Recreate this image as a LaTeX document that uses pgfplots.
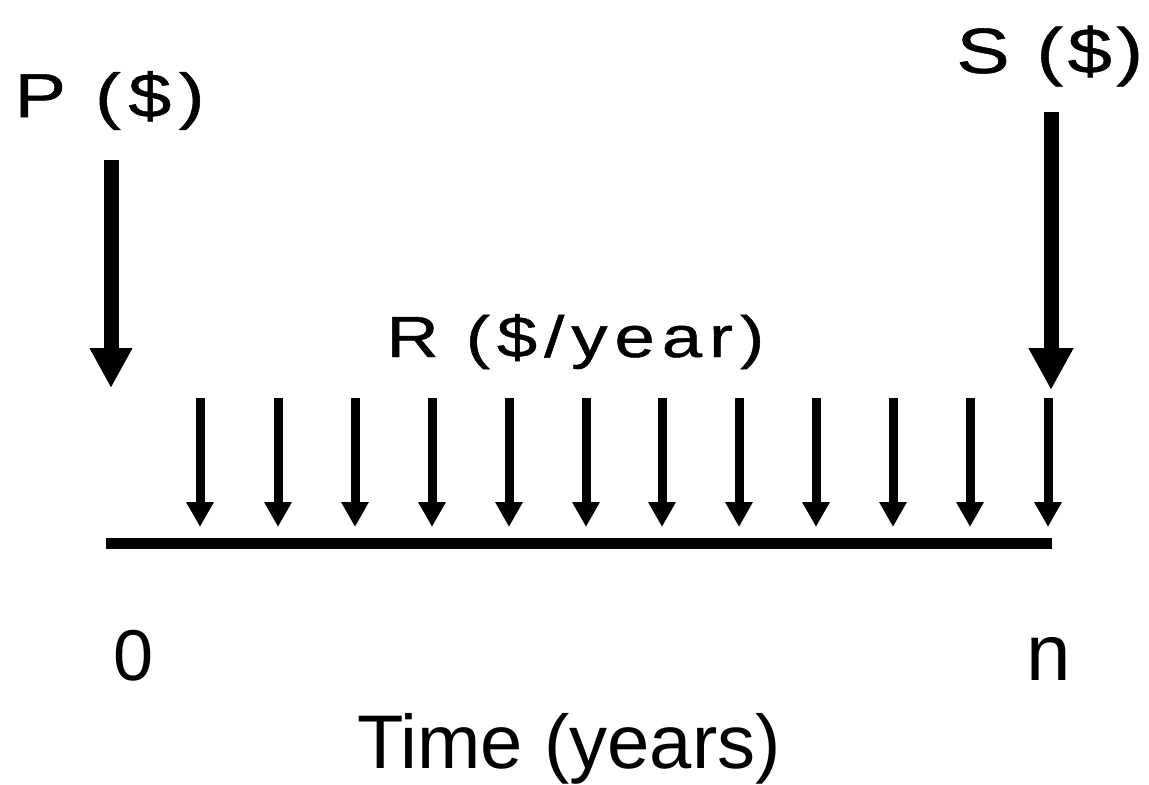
\documentclass[border=0pt]{standalone}
\usepackage{fontspec}
\setmainfont{Liberation Sans}
\newfontfamily\widefont[FakeStretch=1.25,LetterSpace=12,FakeBold=0.8]{Liberation Sans}
\newfontfamily\swidefont[FakeStretch=1.25,LetterSpace=7,FakeBold=0.8]{Liberation Sans}
\usepackage{pgfplots}
\pgfplotsset{compat=1.18}
\usetikzlibrary{arrows.meta}
\begin{document}
\begin{tikzpicture}
\begin{axis}[width=574.5pt,height=392pt,scale only axis,hide axis,
  xmin=0,xmax=1149,ymin=0,ymax=784,clip=false]
% time line
\addplot[black,line width=5.5pt] coordinates {(106,241) (1052,241)};
% P arrow
\addplot[black,line width=7.5pt,-{Triangle[width=20pt,length=20pt]}] coordinates {(111,624) (111,396)};
% S arrow
\addplot[black,line width=7.5pt,-{Triangle[width=21pt,length=21pt]}] coordinates {(1051,672) (1051,394)};
% R arrows
\addplot[black,line width=4.5pt,-{Triangle[width=13pt,length=12.5pt]},quiver={u=0,v=-129}] table {
x y
200 386
278 386
355 386
432 386
509 386
586 386
662 386
739 386
816 386
893 386
970 386
1048 386
};
\node[anchor=base west,inner sep=0pt,font=\widefont\fontsize{31pt}{33pt}\selectfont] at (axis cs:14,667) {P (\$)};
\node[anchor=base west,inner sep=0pt,font=\swidefont\fontsize{32pt}{34pt}\selectfont] at (axis cs:956,711) {S (\$)};
\node[anchor=base west,inner sep=0pt,font=\widefont\fontsize{29pt}{31pt}\selectfont] at (axis cs:386,427) {R (\$/year)};
\node[anchor=base,inner sep=0pt,font=\fontsize{36pt}{38pt}\selectfont] at (axis cs:134,104) {0};
\node[anchor=base,inner sep=0pt,font=\fontsize{40pt}{42pt}\selectfont] at (axis cs:1049,104) {n};
\node[anchor=base,inner sep=0pt,font=\fontsize{38pt}{40pt}\selectfont] at (axis cs:569,16) {Time (years)};
\end{axis}
\pgfresetboundingbox
\path (current axis.south west) rectangle (current axis.north east);
\end{tikzpicture}
\end{document}
